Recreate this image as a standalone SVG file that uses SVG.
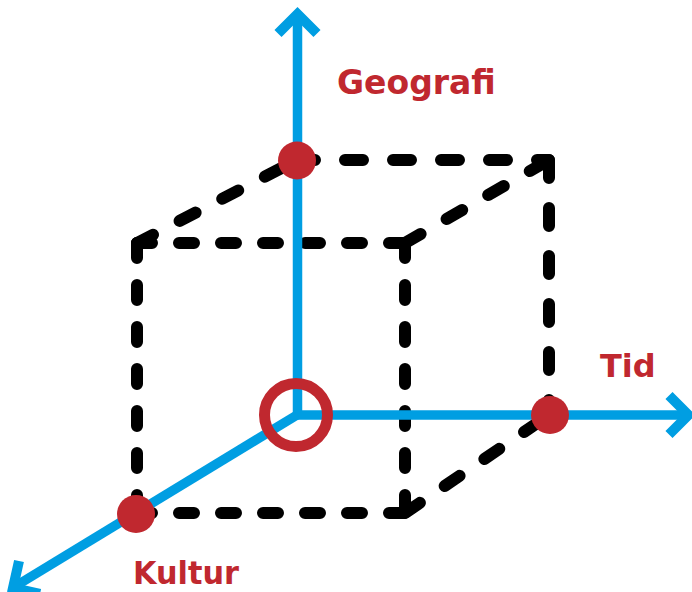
<svg xmlns="http://www.w3.org/2000/svg" width="692" height="592" viewBox="0 0 692 592">
<style>
.axis{stroke:#009EE2;stroke-width:9.5;fill:none}
.head{stroke:#009EE2;stroke-width:10;fill:none;stroke-linejoin:miter;stroke-linecap:butt}
.edge{stroke:#000;stroke-width:12;fill:none;stroke-linecap:round}
.front{stroke-dasharray:15 27}
.back{stroke-dasharray:18 30}
.dot{fill:#C0282F}
.ring{fill:none;stroke:#C0282F;stroke-width:11}
.lbl{font-family:"DejaVu Sans",sans-serif;font-weight:bold;font-size:32px;fill:#C0282F}
</style>
<rect width="692" height="592" fill="#fff"/>
<g id="cube">
<line class="edge back" x1="297" y1="160" x2="549" y2="160"/>
<line class="edge back" x1="549" y1="160" x2="549" y2="415"/>
<line class="edge back" x1="137" y1="243" x2="297" y2="160"/>
<line class="edge back" x1="405" y1="243" x2="549" y2="160"/>
<line class="edge back" x1="405" y1="513" x2="549" y2="415"/>
<line class="edge front" x1="137" y1="243" x2="405" y2="243"/>
<line class="edge front" x1="137" y1="243" x2="137" y2="513"/>
<line class="edge front" x1="405" y1="243" x2="405" y2="513"/>
<line class="edge front" x1="137" y1="513" x2="405" y2="513"/>
</g>
<g id="connectors">
<line class="axis" x1="297.5" y1="417" x2="297.5" y2="16"/>
<polyline class="head" points="278,33.5 297.5,14 317,33.5"/>
<line class="axis" x1="298" y1="415" x2="686" y2="415"/>
<polyline class="head" points="669,395.5 688.5,415 669,434.5"/>
<line class="axis" x1="297" y1="415" x2="14" y2="587"/>
<polyline class="head" points="40,594 13,588 19,561"/>
</g>
<g id="origin"><circle class="ring" cx="296" cy="415" r="31.5"/></g>
<g id="geografi">
<circle class="dot" cx="297" cy="160.5" r="19"/>
<text class="lbl" x="337" y="94" style="font-size:33px">Geografi</text>
</g>
<g id="tid">
<circle class="dot" cx="550" cy="415" r="19"/>
<text class="lbl" x="600" y="377">Tid</text>
</g>
<g id="kultur">
<circle class="dot" cx="136" cy="514" r="19"/>
<text class="lbl" x="133" y="584" textLength="106" lengthAdjust="spacingAndGlyphs">Kultur</text>
</g>
</svg>
